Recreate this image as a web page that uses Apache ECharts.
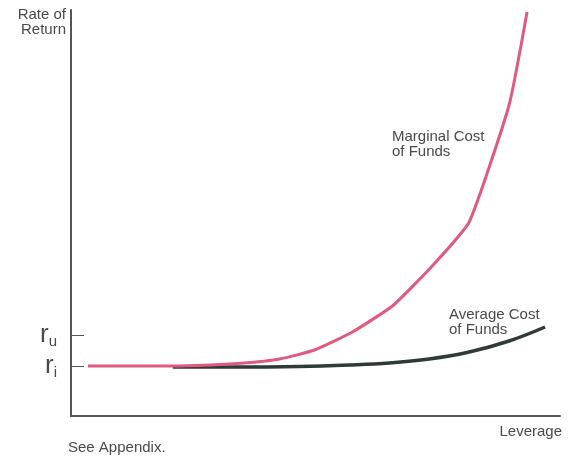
<!DOCTYPE html>
<html><head><meta charset="utf-8">
<script src="https://cdn.jsdelivr.net/npm/echarts@6/dist/echarts.min.js"></script>
<style>html,body{margin:0;padding:0;background:#fff}#c{width:571px;height:458px}</style>
</head><body><div id="c"></div>
<script>
// Leverage (x) and rate of return (y), arbitrary units
const marginalX = [17, 59, 99, 139, 174, 209, 244, 282, 322, 362, 399, 439, 457];
const marginalY = [50, 50, 50, 51, 53, 57, 66, 84, 110, 150, 194, 311, 404];
const averageX = [102, 159, 229, 279, 319, 359, 399, 439, 475];
const averageY = [49, 49, 49.5, 51, 53, 57, 64, 75, 89];
const yTickValues = [50, 81];
const yTickLabels = ['{r|r}{s|i}', '{r|r}{s|u}'];
const xAxisTitle = 'Leverage';
const yAxisTitle = 'Rate of\nReturn';
const marginalLabel = 'Marginal Cost\nof Funds';
const averageLabel = 'Average Cost\nof Funds';
const note = 'See Appendix.';

const font = 'Liberation Sans, Arial, sans-serif';
const textColor = '#4a4a4a';
const chart = echarts.init(document.getElementById('c'));
chart.setOption({
  backgroundColor: '#fff',
  animation: false,
  grid: {left: 71, right: 11, top: 10, bottom: 42, containLabel: false},
  xAxis: {
    type: 'value', min: 0, max: 490,
    axisLine: {show: true, lineStyle: {color: '#555', width: 2}},
    axisTick: {show: false}, axisLabel: {show: false}, splitLine: {show: false}
  },
  yAxis: {
    type: 'value', min: 0, max: 406,
    axisLine: {show: true, lineStyle: {color: '#555', width: 2}},
    axisTick: {show: true, inside: true, length: 13, customValues: yTickValues, lineStyle: {color: '#555', width: 1}},
    axisLabel: {
      show: true, customValues: yTickValues, margin: 14,
      formatter: function (v) { return yTickLabels[yTickValues.indexOf(v)]; },
      rich: {
        r: {fontSize: 26, fontFamily: font, color: textColor},
        s: {fontSize: 15, fontFamily: font, color: textColor, padding: [14, 0, 0, 0]}
      }
    },
    splitLine: {show: false}
  },
  series: [
    {
      type: 'line', data: averageX.map((x, i) => [x, averageY[i]]),
      smooth: 0.4, symbol: 'none',
      lineStyle: {color: '#2e3b38', width: 3.5}, z: 2
    },
    {
      type: 'line', data: marginalX.map((x, i) => [x, marginalY[i]]),
      smooth: 0.15, symbol: 'none',
      lineStyle: {color: '#e05a80', width: 3}, z: 3
    }
  ],
  graphic: [
    {type: 'text', x: 66, y: 7, style: {text: yAxisTitle, font: '15px ' + font, fill: textColor, align: 'right', verticalAlign: 'top', lineHeight: 15}},
    {type: 'text', x: 392, y: 129, style: {text: marginalLabel, font: '15px ' + font, fill: textColor, lineHeight: 15, verticalAlign: 'top'}},
    {type: 'text', x: 449, y: 307, style: {text: averageLabel, font: '15px ' + font, fill: textColor, lineHeight: 15, verticalAlign: 'top'}},
    {type: 'text', x: 562, y: 424, style: {text: xAxisTitle, font: '15px ' + font, fill: textColor, align: 'right', verticalAlign: 'top'}},
    {type: 'text', x: 68, y: 440, style: {text: note, font: '15px ' + font, fill: textColor, verticalAlign: 'top'}}
  ]
});
</script></body></html>
